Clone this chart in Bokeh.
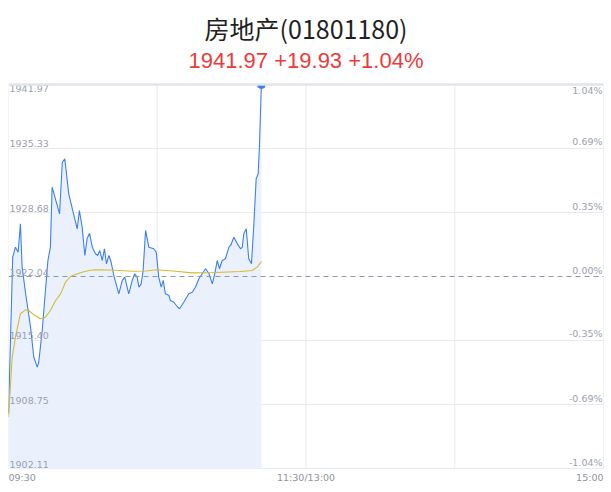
import math
from bokeh.plotting import figure
from bokeh.models import Range1d, FixedTicker, Span, ColumnDataSource
from bokeh.embed import file_html
from bokeh.resources import INLINE
from bokeh.core.properties import value, field

# ---- data ----
prev_close = 1922.04
title_text = "房地产(01801180)"
quote_text = "1941.97 +19.93 +1.04%"

# minutes since 09:30 (trading-time axis, 240 minutes)
price_time = [0, 1.7, 2.8, 3.9, 4.8, 5.5, 6.9, 8.9, 10.2, 11.6, 12.2, 13.6, 14.9, 15.9,
              16.9, 17.6, 20.6, 21.7, 22.7, 24.3, 27.7, 28.6, 29.7, 30.8, 31.7, 32.7,
              33.8, 35.1, 36.0, 36.8, 37.8, 38.7, 39.5, 40.5, 41.4, 42.5, 44.5, 45.9,
              46.9, 48.5, 49.9, 50.9, 51.9, 52.6, 53.5, 54.3, 55.3, 56.6, 58.6, 59.6,
              60.6, 61.6, 62.4, 63.3, 64.7, 65.3, 66.7, 68.3, 69.0, 70.7, 72.7, 74.1,
              75.4, 76.8, 78.1, 79.5, 80.8, 82.2, 83.2, 84.2, 85.1, 86.2, 87.5, 88.9,
              89.6, 90.9, 92.3, 93.6, 94.3, 94.9, 95.9, 96.9, 98.0, 98.9, 99.9, 100.7,
              101.2, 102.0]
price = [1907.82, 1924.04, 1925.08, 1924.56, 1927.51, 1923.01, 1920.28, 1916.78, 1913.66,
         1912.63, 1913.14, 1916.44, 1920.59, 1923.70, 1925.08, 1931.31, 1928.55, 1933.90,
         1934.26, 1930.62, 1926.99, 1928.89, 1927.16, 1924.22, 1925.95, 1926.53, 1925.08,
         1924.40, 1924.22, 1924.74, 1923.70, 1924.92, 1923.36, 1924.22, 1923.52, 1922.14,
         1920.24, 1921.63, 1921.97, 1920.24, 1921.63, 1922.32, 1921.97, 1920.93, 1921.28,
         1922.66, 1926.82, 1925.08, 1924.92, 1924.56, 1921.97, 1920.93, 1921.63, 1920.24,
         1920.07, 1919.55, 1919.37, 1918.85, 1918.69, 1919.37, 1920.24, 1920.41, 1920.93,
         1921.80, 1922.32, 1922.84, 1922.38, 1921.28, 1922.32, 1923.70, 1922.84, 1923.70,
         1923.88, 1925.08, 1925.26, 1926.12, 1925.43, 1924.92, 1925.08, 1926.47, 1926.99,
         1923.88, 1923.36, 1927.16, 1932.18, 1932.70, 1935.46, 1941.97]

avg_time = [0, 1.5, 2.8, 4.8, 6.9, 8.2, 10.2, 12.9, 14.9, 16.9, 19.0, 21.0, 23.0, 25.0,
            27.0, 29.7, 32.4, 35.1, 41.1, 50.4, 55.3, 60.0, 67.4, 74.1, 83.5, 93.6,
            98.3, 100.3, 102.0]
avg_price = [1907.44, 1913.66, 1915.74, 1918.17, 1918.58, 1918.51, 1918.06, 1917.65,
             1917.82, 1918.51, 1919.55, 1920.24, 1921.45, 1922.04, 1922.25, 1922.49,
             1922.66, 1922.74, 1922.72, 1922.59, 1922.61, 1922.74, 1922.59, 1922.42,
             1922.46, 1922.56, 1922.66, 1923.01, 1923.60]

y_ticks = [1902.11, 1908.75, 1915.40, 1922.04, 1928.68, 1935.33, 1941.97]
y_labels = ["1902.11", "1908.75", "1915.40", "1922.04", "1928.68", "1935.33", "1941.97"]
pct_labels = ["-1.04%", "-0.69%", "-0.35%", "0.00%", "0.35%", "0.69%", "1.04%"]
x_grid = [0, 60, 120, 180, 240]
x_ticks = [0, 120, 240]
x_labels = ["09:30", "11:30/13:00", "15:00"]

# ---- figure ----
ymin, ymax = y_ticks[0], y_ticks[-1]
PLOT_H = 384          # pixel height of the price area
LABEL_H = 24          # pixel strip below it for the time labels
HEAD_H = 84           # pixel strip above it for the titles
span = ymax - ymin
ystart = ymin - span * LABEL_H / PLOT_H
yend = ymax + span * HEAD_H / PLOT_H

p = figure(width=611, height=492, x_range=Range1d(0, 240), y_range=Range1d(ystart, yend),
           output_backend="svg", toolbar_location=None,
           min_border_left=8, min_border_right=8, min_border_top=0, min_border_bottom=0)
p.xaxis.visible = False
p.yaxis.visible = False
p.outline_line_color = None
p.background_fill_color = "white"
p.border_fill_color = "white"

p.xgrid.visible = False
p.ygrid.ticker = FixedTicker(ticks=[t for t in y_ticks if t != prev_close])
p.ygrid.grid_line_color = "#e9e9f0"

# vertical grid lines only across the price area
p.segment(x0=x_grid, y0=[ymin] * len(x_grid), x1=x_grid, y1=[ymax] * len(x_grid),
          line_color="#e9e9f0", line_width=1)

p.add_layout(Span(location=ymax, dimension="width", line_color="#e4e4ea", line_width=2.5))
p.add_layout(Span(location=prev_close, dimension="width", line_color="#8e98ad",
                  line_width=1, line_dash="5 4"))

p.varea(x=price_time, y1=ymin, y2=price, fill_color="#eaf1fd", fill_alpha=1)
p.line(price_time, price, line_color="#3b7ff0", line_width=1.1)
p.line(avg_time, avg_price, line_color="#d6bb2e", line_width=1.1)
# last-price marker, cut by the top edge of the price area
p.wedge(x=[price_time[-1]], y=[price[-1]], radius=4, radius_units="screen",
        start_angle=math.pi, end_angle=2 * math.pi, color="#3b7ff0")

# y labels inside plot
vb = ["bottom"] * (len(y_ticks) - 1) + ["top"]
yoff = [-1] * (len(y_ticks) - 1) + [0]
left_src = ColumnDataSource(dict(x=[0] * len(y_ticks), y=y_ticks, t=y_labels, vb=vb, yo=yoff))
right_src = ColumnDataSource(dict(x=[240] * len(y_ticks), y=y_ticks, t=pct_labels, vb=vb, yo=yoff))
p.text(x="x", y="y", text="t", source=left_src, text_align="left", text_baseline=field("vb"),
       x_offset=1, y_offset=field("yo"), text_font=value("DejaVu Sans"), text_font_size="9.5px",
       text_color="#9aa1ae")
p.text(x="x", y="y", text="t", source=right_src, text_align="right", text_baseline=field("vb"),
       x_offset=-1, y_offset=field("yo"), text_font=value("DejaVu Sans"), text_font_size="9.5px",
       text_color="#9aa1ae")

# time labels below the price area
xa = ["left", "center", "right"]
x_src = ColumnDataSource(dict(x=x_ticks, y=[ymin] * 3, t=x_labels, a=xa))
p.text(x="x", y="y", text="t", source=x_src, text_align=field("a"), text_baseline="top",
       y_offset=3, text_font=value("DejaVu Sans"), text_font_size="9.5px", text_color="#8f939c")

# titles, centred above the price area
p.text(x=[120], y=[ymax], text=[title_text], text_align="center", text_baseline="middle",
       y_offset=-57, text_font=value("Noto Sans CJK SC"), text_font_size="25px",
       text_color="#1f1f24")
p.text(x=[120], y=[ymax], text=[quote_text], text_align="center", text_baseline="middle",
       y_offset=-24, text_font=value("Liberation Sans"), text_font_size="22px",
       text_color="#eb3b3b")

open("out.html", "w").write(file_html(p, INLINE))
